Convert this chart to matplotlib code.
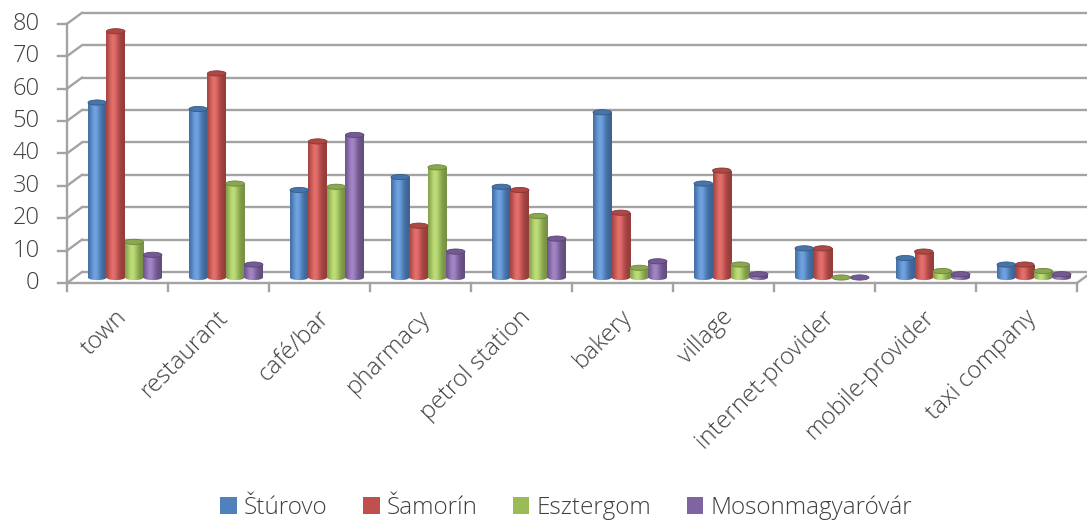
import numpy as np
import matplotlib.pyplot as plt
from matplotlib.patches import Rectangle, Ellipse, Patch
from matplotlib.colors import to_rgb

categories = ['town', 'restaurant', 'café/bar', 'pharmacy', 'petrol station',
              'bakery', 'village', 'internet-provider', 'mobile-provider', 'taxi company']
sturovo = [54, 52, 27, 31, 28, 51, 29, 9, 6, 4]
samorin = [76, 63, 42, 16, 27, 20, 33, 9, 8, 4]
esztergom = [11, 29, 28, 34, 19, 3, 4, 0, 2, 2]
mosonmagyarovar = [7, 4, 44, 8, 12, 5, 1, 0, 1, 1]
series_names = ['Štúrovo', 'Šamorín', 'Esztergom', 'Mosonmagyaróvár']
yticks = [0, 10, 20, 30, 40, 50, 60, 70, 80]

colors = ['#4F81BD', '#C0504D', '#9BBB59', '#8064A2']
series = [sturovo, samorin, esztergom, mosonmagyarovar]

plt.rcParams['font.family'] = ['Open Sans', 'DejaVu Sans']
plt.rcParams['font.weight'] = 'light'
text_color = '#404040'
grid_color = '#a3a3a3'

fig = plt.figure(figsize=(10.87, 5.25), dpi=100)
ax = fig.add_axes([0, 0, 1, 1])
ax.axis('off')

# depth of the 3-D box (back wall offset) and bar geometry, in data units
dx, dy = 0.1485, 3.4
bar_w = 0.183
cap_h = 1.6
n_cat = len(categories)


def shade(color, n=64):
    base = np.array(to_rgb(color))
    t = np.linspace(0, 1, n)
    k = 0.76 + 0.40 * np.exp(-((t - 0.38) / 0.32) ** 2)
    rgb = np.clip(base[None, :] * k[:, None], 0, 1)
    # lift the highlight toward white a little
    rgb = rgb + (1 - rgb) * 0.12 * np.exp(-((t - 0.38) / 0.2) ** 2)[:, None]
    return rgb[None, :, :]


def cylinder(xc, y0, h, color, z):
    x0 = xc - bar_w / 2
    grad = shade(color)
    if h > 0:
        body = Rectangle((x0, y0), bar_w, h, transform=ax.transData)
        base = Ellipse((xc, y0), bar_w, cap_h, transform=ax.transData)
        for clip in (body, base):
            im = ax.imshow(grad, extent=[x0, x0 + bar_w, y0 - cap_h, y0 + h],
                           aspect='auto', interpolation='bilinear', zorder=z)
            im.set_clip_path(clip)
    top = np.array(to_rgb(color)) * 0.9
    ax.add_patch(Ellipse((xc, y0 + h), bar_w, cap_h, facecolor=top,
                         edgecolor=np.array(to_rgb(color)) * 0.7, lw=0.6, zorder=z + 0.5))


# back wall gridlines and left wall diagonals
for v in yticks:
    ax.plot([dx, n_cat + dx + 0.2], [v + dy, v + dy], color=grid_color, lw=1.7, zorder=1,
            solid_capstyle='butt')
    ax.plot([0, dx], [v, v + dy], color=grid_color, lw=1.7, zorder=1)
    ax.plot([-0.09, 0], [v, v], color=grid_color, lw=1.7, zorder=1)
    ax.text(-0.27, v, str(v), ha='right', va='center', fontsize=17, color=text_color)

# floor and front axis
ax.plot([0, n_cat], [0, 0], color=grid_color, lw=1.7, zorder=1)
ax.plot([n_cat, n_cat + dx], [0, dy], color=grid_color, lw=1.7, zorder=1)
ax.plot([0, 0], [0, 80], color=grid_color, lw=1.7, zorder=1)
for i in range(n_cat + 1):
    ax.plot([i, i], [0, -2.6], color=grid_color, lw=1.7, zorder=1)

# cylinders
for i in range(n_cat):
    for j, (vals, c) in enumerate(zip(series, colors)):
        xc = i + 0.5 + dx / 2 - 1.5 * bar_w + j * bar_w
        cylinder(xc, dy / 2, vals[i], c, 3 + j * 0.01)

# category labels
for i, name in enumerate(categories):
    ax.text(i + 0.56, -9.5, name, rotation=45, rotation_mode='anchor',
            ha='right', va='center', fontsize=17.5, color=text_color)

handles = [Patch(facecolor=c, edgecolor='none') for c in colors]
fig.legend(handles, series_names, loc='center', bbox_to_anchor=(0.521, 0.033), ncol=4,
           frameon=False, fontsize=17.5, handlelength=0.68, handleheight=0.68,
           handletextpad=0.3, columnspacing=1.45, labelcolor=text_color)

ax.set_xlim(-0.663, 10.099)
ax.set_ylim(-74.69, 87.35)

fig.savefig('out.png', dpi=100)
